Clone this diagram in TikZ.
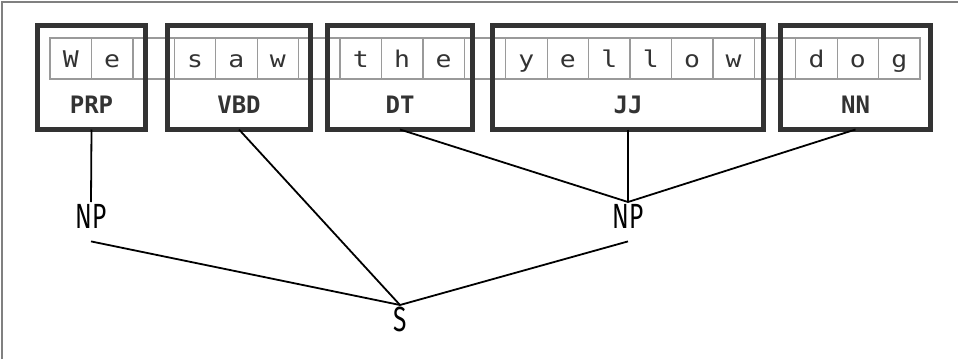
\documentclass[tikz,border=0pt]{standalone}
\usepackage{fontspec}
\newfontfamily\cellfont[FakeStretch=1.15]{DejaVu Sans Mono}
\newfontfamily\tagfont{DejaVu Sans Mono}
\newfontfamily\ntfont[FakeStretch=0.7]{Fira Sans}
\definecolor{boxgray}{HTML}{333333}
\definecolor{cellgray}{HTML}{9A9A9A}
\definecolor{framegray}{HTML}{808080}
\begin{document}
\begin{tikzpicture}[x=1pt,y=-1pt,
  cellbox/.style={draw=cellgray, line width=1.3pt, minimum width=41.43pt, minimum height=41pt,
    inner sep=0pt, outer sep=0pt, text height=21pt, text depth=4pt, text=boxgray,
    font=\cellfont\fontsize{23}{23}\selectfont},
  tagbox/.style={draw=boxgray, line width=4.5pt, inner sep=0pt, outer sep=0pt, minimum height=104pt},
  tag/.style={font=\tagfont\bfseries\fontsize{24}{24}\selectfont, text=boxgray, anchor=base, inner sep=0pt},
  phrase/.style={font=\ntfont\fontsize{35}{35}\selectfont, text=black, inner xsep=0pt, inner ysep=3pt,
    text height=23pt, text depth=10pt, anchor=north},
  conn/.style={draw=black, line width=1.8pt}
]
\useasboundingbox (0,0) rectangle (958,359);
\fill[white] (0,0) rectangle (958,359);
\draw[framegray, line width=2pt] (2,359) -- (2,2) -- (958,2);

% character cells
\foreach \ch [count=\i] in {W,e,{},s,a,w,{},t,h,e,{},y,e,l,l,o,w,{},d,o,g}{
  \pgfmathsetmacro{\cx}{50+41.43*(\i-0.5)}
  \node[cellbox] (c\i) at (\cx,58.5) {\ch};
}

% tag boxes
\node[tagbox, minimum width=108pt] (prp) at (91.5,77.5) {};
\node[tagbox, minimum width=143pt] (vbd) at (239,77.5) {};
\node[tagbox, minimum width=145pt] (dt) at (400,77.5) {};
\node[tagbox, minimum width=271pt] (jj) at (628,77.5) {};
\node[tagbox, minimum width=150pt] (nn) at (855.5,77.5) {};

% tag labels
\node[tag] (tprp) at (91.5,113) {PRP};
\node[tag] (tvbd) at (239,113) {VBD};
\node[tag] (tdt) at (400,113) {DT};
\node[tag] (tjj) at (628,113) {JJ};
\node[tag] (tnn) at (855.5,113) {NN};

% phrase nodes
\node[phrase] (np1) at (91,202) {NP};
\node[phrase] (np2) at (628,202) {NP};
\node[phrase, text depth=0pt] (s) at (400,305) {S};

% connectors
\draw[conn] (prp.south) -- (np1.north);
\draw[conn] (dt.south) -- (np2.north);
\draw[conn] (jj.south) -- (np2.north);
\draw[conn] (nn.south) -- (np2.north);
\draw[conn] (vbd.south) -- (s.north);
\draw[conn] (np1.south) -- (s.north);
\draw[conn] (np2.south) -- (s.north);
\end{tikzpicture}
\end{document}
